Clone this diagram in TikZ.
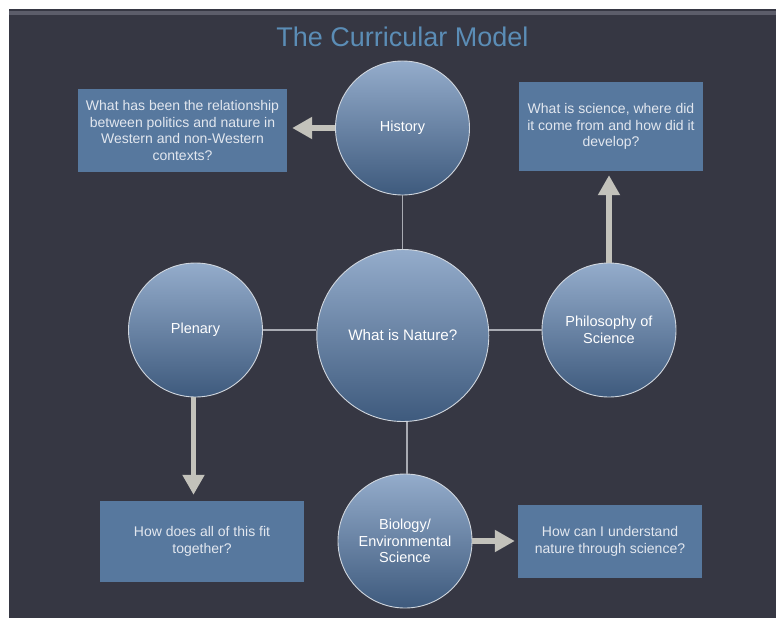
\documentclass[tikz,border=0pt]{standalone}
\usepackage{fontspec}
\setmainfont{Liberation Sans}
\usetikzlibrary{arrows.meta}
\definecolor{bg}{HTML}{363743}
\definecolor{stripe}{HTML}{5C5D6A}
\definecolor{titlec}{HTML}{5B8DB6}
\definecolor{ctop}{HTML}{94ACCB}
\definecolor{cbot}{HTML}{3E5A7D}
\definecolor{cedge}{HTML}{D0D6DE}
\definecolor{boxc}{HTML}{57789E}
\definecolor{boxtext}{HTML}{E2E7EF}
\definecolor{linkc}{HTML}{A9ABB3}
\definecolor{arrowc}{HTML}{C3C2BB}
\begin{document}
\begin{tikzpicture}[x=1pt,y=-1pt,
  topic/.style={circle, draw=cedge, line width=0.9pt, top color=ctop, bottom color=cbot,
    minimum size=134pt, inner sep=0pt, text=white, align=center,
    font=\fontsize{14.5}{16.7}\selectfont},
  bigtopic/.style={topic, minimum size=172pt, font=\fontsize{15.2}{17}\selectfont},
  qbox/.style={rectangle, fill=boxc, text=boxtext, align=center, inner sep=0pt,
    font=\fontsize{14}{16.5}\selectfont},
  link/.style={draw=linkc, line width=1.8pt},
  bigarrow/.style={draw=arrowc, line width=5.5pt, -{Triangle[width=21pt,length=20pt]}},
  titlestyle/.style={text=titlec, font=\fontsize{27}{30}\selectfont}]
\useasboundingbox (0,0) rectangle (776,618);
\fill[white] (-5,-5) rectangle (790,630);
\fill[bg] (9,9) rectangle (790,630);
\fill[stripe] (9,11) rectangle (790,15);

\node[titlestyle] (title) at (402.5,37) {The Curricular Model};

% question boxes
\node[qbox, minimum width=209pt, minimum height=83pt] (b1) at (182.5,130.5)
  {What has been the relationship\\between politics and nature in\\Western and non-Western\\contexts?};
\node[qbox, minimum width=184pt, minimum height=89pt] (b2) at (611,126.5)
  {What is science, where did\\it come from and how did it\\develop?};
\node[qbox, minimum width=204pt, minimum height=81pt] (b3) at (202,541.5)
  {How does all of this fit\\together?};
\node[qbox, minimum width=184pt, minimum height=73pt] (b4) at (610,541.5)
  {How can I understand\\nature through science?};

% circles
\node[topic] (hist) at (402.5,128) {History};
\node[bigtopic] (na) at (402.8,335.5) {What is Nature?};
\node[topic] (pl) at (195.5,330) {Plenary};
\node[topic] (phil) at (609,330) {Philosophy of\\Science};
\node[topic] (bio) at (405,541) {Biology/\\Environmental\\Science};

% thin links
\draw[link] (hist) -- (hist |- na.north);
\draw[link] (pl) -- (pl -| na.west);
\draw[link] (phil) -- (phil -| na.east);
\draw[link] ([xshift=1.7pt]bio.north) -- ([xshift=1.7pt]bio.north |- na.south);

% big arrows
\draw[bigarrow, shorten >=5pt] (hist.west) -- (hist.west -| b1.east);
\draw[bigarrow, shorten >=4pt] (phil.north) -- (phil.north |- b2.south);
\draw[bigarrow, shorten >=6pt] ([xshift=-2pt]pl.south) -- ([xshift=-2pt]pl.south |- b3.north);
\draw[bigarrow, shorten >=3pt] (bio.east) -- (bio.east -| b4.west);
\end{tikzpicture}
\end{document}
